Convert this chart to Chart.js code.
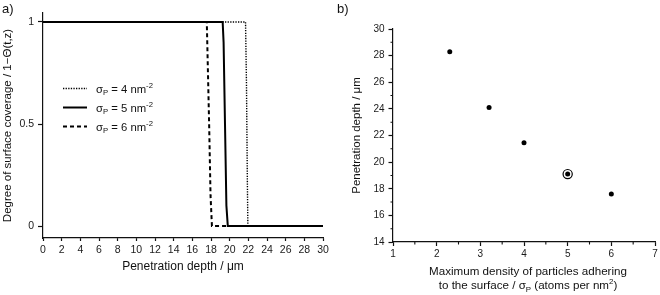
<!DOCTYPE html>
<html>
<head>
<meta charset="utf-8">
<script src="https://cdn.jsdelivr.net/npm/chart.js@4.4.1/dist/chart.umd.min.js"></script>
<style>
  body { margin: 0; background: #fff; }
  #wrap { position: relative; width: 660px; height: 295px; }
  canvas { position: absolute; left: 0; top: 0; }
</style>
</head>
<body>
<div id="wrap">
  <canvas id="chartA" width="660" height="295"></canvas>
  <canvas id="chartB" width="660" height="295"></canvas>
</div>
<script>
// ---- panel a) : coverage profiles ----
const depthTicks = [0, 2, 4, 6, 8, 10, 12, 14, 16, 18, 20, 22, 24, 26, 28, 30];
const coverageTicks = [0, 0.5, 1];
const legendSigma = [4, 5, 6];

const depth4 = [0, 21.7, 21.8, 21.9, 21.95, 30];
const cover4 = [1, 1, 0.7, 0.2, 0, 0];
const depth5 = [0, 19.25, 19.35, 19.5, 19.65, 19.8, 30];
const cover5 = [1, 1, 0.9, 0.5, 0.1, 0, 0];
const depth6 = [0, 17.55, 17.65, 17.8, 17.95, 18.1, 30];
const cover6 = [1, 1, 0.8, 0.5, 0.15, 0, 0];

// ---- panel b) : penetration depth vs sigma ----
const densityTicks = [1, 2, 3, 4, 5, 6, 7];
const densityMinor = [1.5, 2.5, 3.5, 4.5, 5.5, 6.5];
const penTicks = [14, 16, 18, 20, 22, 24, 26, 28, 30];
const penMinor = [15, 17, 19, 21, 23, 25, 27, 29];
const sigmaP = [2.3, 3.2, 4, 5, 6];
const penetration = [28.3, 24.1, 21.45, 19.1, 17.6];
const highlighted = 3;

const FAMILY = '"Liberation Sans", Arial, sans-serif';
Chart.defaults.font.family = FAMILY;
Chart.defaults.color = '#1a1a1a';

const pts = (xs, ys) => xs.map((x, i) => ({ x: x, y: ys[i] }));
const fixTicks = vals => s => { s.ticks = vals.map(v => ({ value: v })); };

function axis(tickLen) {
  return {
    border: { display: true, color: '#111', width: 1.2 },
    grid: { display: true, drawOnChartArea: false, drawTicks: true, tickLength: tickLen, color: '#111', tickWidth: 1.2 },
  };
}

// text with sub/superscripts
function drawRich(ctx, runs, x0, cy, size, align) {
  const small = size * 0.68;
  const setFont = r => { ctx.font = ((r.sub || r.sup) ? small : size) + 'px ' + FAMILY; };
  let total = 0;
  runs.forEach(r => { setFont(r); total += ctx.measureText(r.t).width; });
  let x = align === 'center' ? x0 - total / 2 : x0;
  const base = cy + size * 0.36;
  ctx.textAlign = 'left';
  ctx.textBaseline = 'alphabetic';
  ctx.fillStyle = '#111';
  runs.forEach(r => {
    setFont(r);
    const dy = r.sub ? size * 0.22 : r.sup ? -size * 0.42 : 0;
    ctx.fillText(r.t, x, base + dy);
    x += ctx.measureText(r.t).width;
  });
}

const panelLabel = (txt, x, y) => ({
  id: 'panelLabel',
  afterDraw(chart) {
    const ctx = chart.ctx;
    ctx.save();
    ctx.font = '13px ' + FAMILY;
    ctx.fillStyle = '#111';
    ctx.textAlign = 'left';
    ctx.textBaseline = 'middle';
    ctx.fillText(txt, x, y);
    ctx.restore();
  }
});

const sigmaLegend = {
  id: 'sigmaLegend',
  afterDraw(chart) {
    const { ctx, chartArea } = chart;
    ctx.save();
    legendSigma.forEach((s, i) => {
      const ds = chart.data.datasets.find(d => d.sigma === s);
      const y = chartArea.top + 75.5 + i * 19;
      ctx.strokeStyle = '#000';
      ctx.lineWidth = ds.borderWidth;
      ctx.setLineDash(ds.borderDash || []);
      ctx.beginPath();
      ctx.moveTo(chartArea.left + 20, y);
      ctx.lineTo(chartArea.left + 44, y);
      ctx.stroke();
      ctx.setLineDash([]);
      drawRich(ctx, [{ t: 'σ' }, { t: 'P', sub: true }, { t: ' = ' + s + ' nm' }, { t: '-2', sup: true }],
        chartArea.left + 53, y, 11.3, 'left');
    });
    ctx.restore();
  }
};

new Chart(document.getElementById('chartA'), {
  type: 'line',
  data: {
    datasets: [
      { sigma: 5, data: pts(depth5, cover5), borderColor: '#000', borderWidth: 2 },
      { sigma: 6, data: pts(depth6, cover6), borderColor: '#000', borderWidth: 2, borderDash: [4, 3] },
      { sigma: 4, data: pts(depth4, cover4), borderColor: '#000', borderWidth: 1.4, borderDash: [1.3, 1.3] },
    ]
  },
  options: {
    responsive: false,
    animation: false,
    events: [],
    layout: { autoPadding: false, padding: { left: 0, top: 13, right: 337, bottom: 0 } },
    elements: { point: { radius: 0 }, line: { tension: 0, fill: false } },
    plugins: { legend: { display: false }, tooltip: { enabled: false } },
    scales: {
      x: {
        type: 'linear', min: 0, max: 30,
        ...axis(3),
        afterBuildTicks: fixTicks(depthTicks),
        afterFit: s => { s.height = 57; },
        ticks: { font: { size: 10.5 }, padding: 3, maxRotation: 0, autoSkip: false },
        title: { display: true, text: 'Penetration depth / μm', color: '#111', font: { size: 12 }, padding: { top: 0, bottom: 21 } }
      },
      y: {
        type: 'linear', min: -0.0588, max: 1.0441,
        ...axis(5),
        afterBuildTicks: fixTicks(coverageTicks),
        afterFit: s => { s.width = 43; },
        ticks: { font: { size: 10.5 }, padding: 4, callback: v => String(v) },
        title: { display: true, text: 'Degree of surface coverage / 1−Θ(t,z)', color: '#111', font: { size: 11.5 }, padding: { top: 1, bottom: 0 } }
      }
    }
  },
  plugins: [sigmaLegend, panelLabel('a)', 2, 9)]
});

// ---- panel b) ----
const minorTicks = {
  id: 'minorTicks',
  afterDraw(chart) {
    const { ctx, chartArea, scales } = chart;
    ctx.save();
    ctx.strokeStyle = '#111';
    ctx.lineWidth = 1.1;
    ctx.beginPath();
    densityMinor.forEach(v => {
      const px = scales.x.getPixelForValue(v);
      ctx.moveTo(px, chartArea.bottom);
      ctx.lineTo(px, chartArea.bottom + 2.5);
    });
    penMinor.forEach(v => {
      const py = scales.y.getPixelForValue(v);
      ctx.moveTo(chartArea.left, py);
      ctx.lineTo(chartArea.left - 2.5, py);
    });
    ctx.stroke();
    ctx.restore();
  }
};

const xTitleB = {
  id: 'xTitleB',
  afterDraw(chart) {
    const { ctx, chartArea } = chart;
    const cx = (chartArea.left + chartArea.right) / 2 + 4;
    ctx.save();
    drawRich(ctx, [{ t: 'Maximum density of particles adhering' }], cx, chartArea.bottom + 28.7, 11.6, 'center');
    drawRich(ctx, [{ t: 'to the surface / σ' }, { t: 'P', sub: true }, { t: ' (atoms per nm' }, { t: '2', sup: true }, { t: ')' }],
      cx, chartArea.bottom + 43, 11.6, 'center');
    ctx.restore();
  }
};

new Chart(document.getElementById('chartB'), {
  type: 'scatter',
  data: {
    datasets: [
      {
        data: pts(sigmaP, penetration),
        pointRadius: 2.5, pointBackgroundColor: '#000', pointBorderWidth: 0
      },
      {
        data: [{ x: sigmaP[highlighted], y: penetration[highlighted] }],
        pointRadius: 4.6, pointBackgroundColor: 'rgba(0,0,0,0)', pointBorderColor: '#000', pointBorderWidth: 1.2
      }
    ]
  },
  options: {
    responsive: false,
    animation: false,
    events: [],
    layout: { autoPadding: false, padding: { left: 333, top: 29, right: 5, bottom: 0 } },
    plugins: { legend: { display: false }, tooltip: { enabled: false } },
    scales: {
      x: {
        type: 'linear', min: 1, max: 7,
        ...axis(4),
        afterBuildTicks: fixTicks(densityTicks),
        afterFit: s => { s.height = 53; },
        ticks: { font: { size: 10 }, padding: 2, maxRotation: 0, autoSkip: false },
        title: { display: false }
      },
      y: {
        type: 'linear', min: 14, max: 30,
        ...axis(4.5),
        afterBuildTicks: fixTicks(penTicks),
        afterFit: s => { s.width = 60; },
        ticks: { font: { size: 10 }, padding: 4 },
        title: { display: true, text: 'Penetration depth / μm', color: '#111', font: { size: 11.5 }, padding: { top: 17, bottom: 0 } }
      }
    }
  },
  plugins: [minorTicks, xTitleB, panelLabel('b)', 337, 9)]
});
</script>
</body>
</html>
